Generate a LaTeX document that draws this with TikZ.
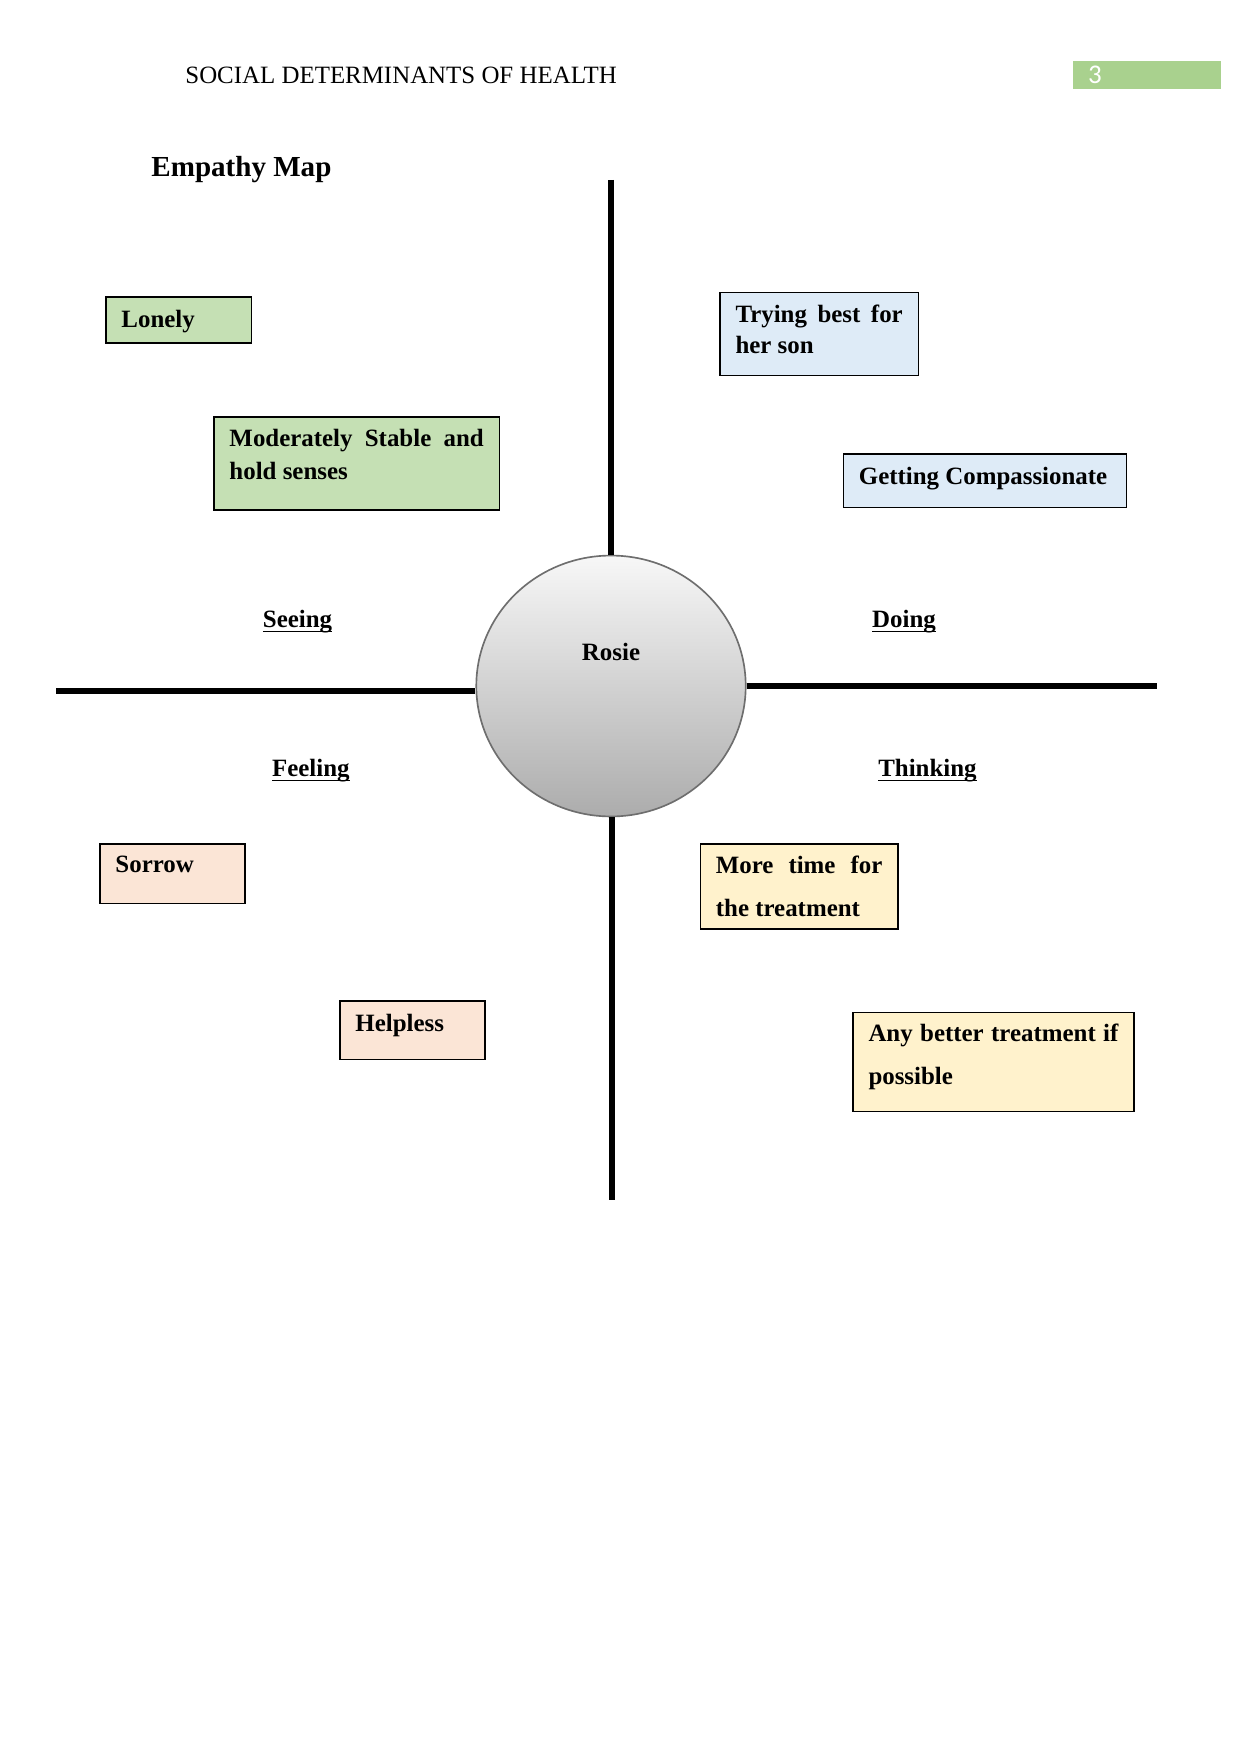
\documentclass[tikz,border=0pt]{standalone}
\usepackage{fontspec}
\setmainfont{Liberation Serif}
\newfontfamily\pagenumfont{Carlito}
\usetikzlibrary{shapes.geometric}
\definecolor{mapgreen}{HTML}{C5E0B4}
\definecolor{mapblue}{HTML}{DEEBF7}
\definecolor{mappeach}{HTML}{FBE5D6}
\definecolor{mapyellow}{HTML}{FFF2CC}
\definecolor{headgreen}{HTML}{A9D18E}
\definecolor{hubedge}{HTML}{6E6E6E}
% underline that runs through the descenders, as in the page
\newcommand{\quadword}[1]{\setbox0=\hbox{#1}\rlap{\rule[-2.2pt]{\wd0}{0.6pt}}\box0}
% stretch justified lines instead of breaking badly
\tolerance=9999
\hyphenpenalty=10000

\begin{document}
\begin{tikzpicture}[x=0.4818pt, y=-0.4818pt,
  card/.style={draw=black, line width=0.6pt, anchor=north west, align=justify,
    inner xsep=7.5pt, inner ysep=0pt},
  hub/.style={ellipse, draw=hubedge, line width=0.8pt, top color=gray!6,
    bottom color=gray!65, minimum width=129.8pt, minimum height=125.7pt,
    inner sep=0pt, font=\fontsize{12}{14}\selectfont\bfseries},
  quad/.style={anchor=base, inner sep=0pt, font=\fontsize{12}{14}\selectfont\bfseries},
  axisline/.style={line width=3pt}]

  % Page frame (A4 at 150 dpi)
  \useasboundingbox (0,0) rectangle (1241,1754);

  % Running head and page number
  \node[anchor=base west, inner sep=0pt, font=\fontsize{12}{14}\selectfont] (runhead) at (185,83.3) {SOCIAL DETERMINANTS OF HEALTH};
  \node[fill=headgreen, anchor=north west, align=left, inner xsep=7.4pt, inner ysep=0pt,
    text width=56.8pt, text height=10.45pt, text depth=3pt, text=white,
    font=\pagenumfont\fontsize{13}{15}\selectfont] (pagenum) at (1072.3,61) {3};

  % Title
  \node[anchor=base west, inner sep=0pt, font=\fontsize{14}{16}\selectfont\bfseries] (title) at (151,176.7) {Empathy Map};

  % Centre circle
  \node[hub, text height=8pt, text depth=32.4pt] (rosie) at (611,686) {Rosie};

  % Axis arms
  \coordinate (topend) at (611,180);
  \coordinate (botend) at (612,1200);
  \coordinate (leftend) at (56,691);
  \coordinate (rightend) at (1157,686);
  \draw[axisline] (topend) -- (topend |- rosie.north);
  \draw[axisline] (rosie.south -| botend) -- (botend);
  \draw[axisline] (leftend) -- (leftend -| rosie.west);
  \draw[axisline] (rosie.east |- rightend) -- (rightend);

  % Quadrant headings
  \foreach \name/\x/\y/\word in {seeing/297.5/627.3/Seeing, doing/904/627.3/Doing,
    feeling/310.8/776.7/Feeling, thinking/927.5/776.7/Thinking}
    \node[quad] (\name) at (\x,\y) {\quadword{\word}};

  % Notes: name / x / y / text width / text height / text depth / line skip / fill / text
  \foreach \name/\x/\y/\twd/\tht/\tdp/\lsk/\col/\txt in {
    lonely/105.3/296.3/55.05/14.65/7.52/15.5/mapgreen/{Lonely},
    stable/213.3/416.3/122.5/14.3/30.5/15.9/mapgreen/{Moderately Stable and hold senses},
    trying/719.3/291.7/80.6/14.45/25.8/15.2/mapblue/{Trying best for her son},
    compassion/842.7/453.3/121.35/14.8/10.9/15.5/mapblue/{Getting Compassionate},
    sorrow/99.3/843.3/54.9/14.0/14.8/15.5/mappeach/{Sorrow},
    helpless/339.3/1000.3/54.9/14.65/13.6/15.5/mappeach/{Helpless},
    moretime/699.7/843.3/80.2/14.15/26.8/20.7/mapyellow/{More time for the treatment},
    better/852.3/1011.7/120.4/14.1/33.7/20.9/mapyellow/{Any better treatment if possible}
  } {
    \node[card, fill=\col, text width=\twd pt, text height=\tht pt, text depth=\tdp pt,
      font=\fontsize{12}{\lsk}\selectfont\bfseries] (\name) at (\x,\y) {\txt};
  }

\end{tikzpicture}
\end{document}
